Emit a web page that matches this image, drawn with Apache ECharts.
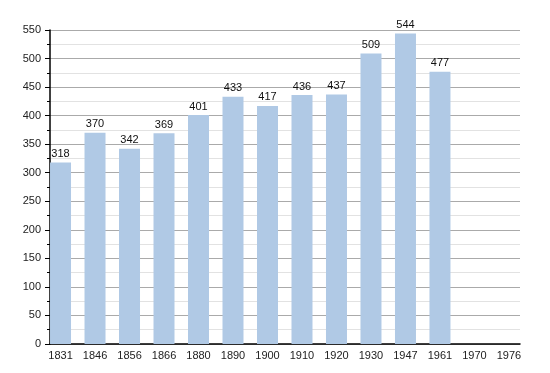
<!DOCTYPE html>
<html><head><meta charset="utf-8">
<script src="https://cdn.jsdelivr.net/npm/echarts@6/dist/echarts.min.js"></script>
<style>html,body{margin:0;padding:0;background:#fff}#c{width:550px;height:373px}</style>
</head><body><div id="c"></div>
<script>
const years = ['1831','1846','1856','1866','1880','1890','1900','1910','1920','1930','1947','1961','1970','1976'];
const population = [318,370,342,369,401,433,417,436,437,509,544,477,null,null];
const yTicks = [0,50,100,150,200,250,300,350,400,450,500,550];

const chart = echarts.init(document.getElementById('c'));
const idx = years.map((_, i) => i);
const font = 'Liberation Sans, Arial, sans-serif';
chart.setOption({
  animation: false,
  grid: {left: 50, right: 30, top: 30, bottom: 29},
  xAxis: {
    type: 'value', min: -0.305, max: 13.32,
    axisLine: {show: true, onZero: false, lineStyle: {color: '#000', width: 1.5}},
    axisTick: {show: false},
    splitLine: {show: false},
    axisLabel: {customValues: idx, formatter: v => years[Math.round(v)], color: '#222', fontSize: 11, fontFamily: font, margin: 6}
  },
  yAxis: {
    type: 'value', min: 0, max: 550, interval: 50,
    axisLine: {show: true, onZero: false, lineStyle: {color: '#000', width: 1.5}},
    axisTick: {show: true, length: 5, lineStyle: {color: '#000'}},
    minorTick: {show: true, splitNumber: 2, length: 3, lineStyle: {color: '#000'}},
    splitLine: {show: true, lineStyle: {color: '#aaa', width: 1}},
    minorSplitLine: {show: true, lineStyle: {color: '#e2e2e2', width: 1}},
    axisLabel: {color: '#222', fontSize: 11, fontFamily: font, margin: 9,
      formatter: v => yTicks.includes(v) ? String(v) : ''}
  },
  series: [{
    type: 'bar', barWidth: 21,
    data: population.map((v, i) => [i, v]),
    itemStyle: {color: '#b0c9e5'},
    label: {show: true, position: 'top', distance: 3, color: '#111', fontSize: 11, fontFamily: font,
      formatter: p => p.value[1] == null ? '' : String(p.value[1])}
  }]
});
</script></body></html>
